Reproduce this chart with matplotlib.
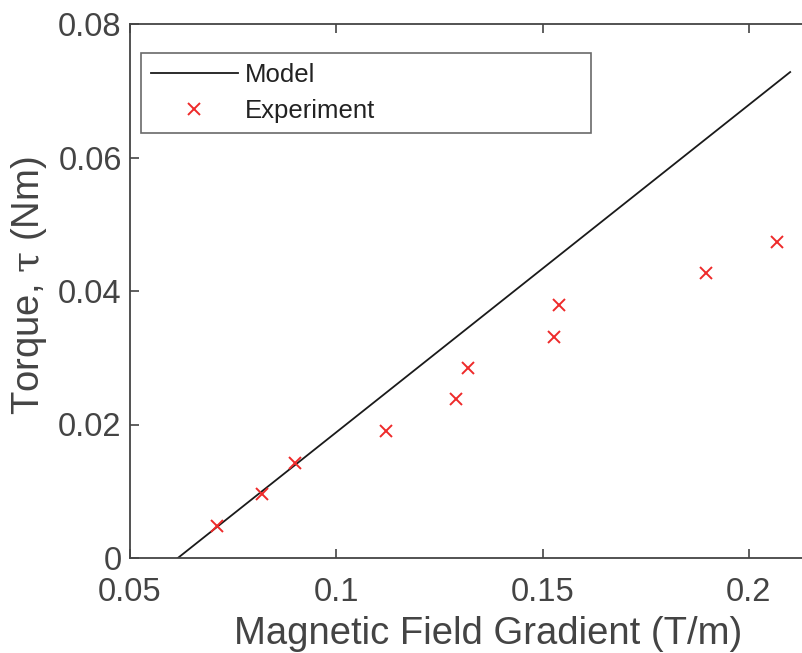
import matplotlib
matplotlib.use("Agg")
import matplotlib.pyplot as plt

plt.rcParams['font.family'] = ['Liberation Sans', 'DejaVu Sans']
plt.rcParams['mathtext.fontset'] = 'custom'
plt.rcParams['mathtext.rm'] = 'DejaVu Serif'
plt.rcParams['mathtext.it'] = 'DejaVu Serif'

# Data
model_x = [0.0616, 0.21]
model_y = [0.0, 0.0728]
exp_x = [0.0711, 0.0820, 0.0900, 0.1120, 0.1290, 0.1319, 0.1528, 0.1540, 0.1896, 0.2068]
exp_y = [0.0048, 0.0096, 0.0142, 0.0190, 0.0238, 0.0285, 0.0331, 0.0379, 0.0427, 0.0473]
xticks = [0.05, 0.1, 0.15, 0.2]
xticklabels = ['0.05', '0.1', '0.15', '0.2']
yticks = [0, 0.02, 0.04, 0.06, 0.08]
yticklabels = ['0', '0.02', '0.04', '0.06', '0.08']

W, H = 802, 653
fig = plt.figure(figsize=(W/100, H/100), dpi=100)
left, right, top, bottom = 130, 846, 24, 558
ax = fig.add_axes([left/W, (H-bottom)/H, (right-left)/W, (bottom-top)/H])

gray = '#444444'
ax.plot(model_x, model_y, color='#1a1a1a', lw=1.3, label='Model')
ax.plot(exp_x, exp_y, linestyle='none', marker='x', color='#ee2a2a', markersize=8.5, mew=1.4, label='Experiment')

ax.set_xlim(0.05, 0.05 + (right-left)/4126)
ax.set_ylim(0, 0.08)
ax.set_xticks(xticks)
ax.set_xticklabels(xticklabels)
ax.set_yticks(yticks)
ax.set_yticklabels(yticklabels)
ax.tick_params(direction='in', top=True, right=False, length=6.5, width=1.2, color=gray,
               labelsize=23.5, labelcolor=gray)
ax.tick_params(axis='x', pad=13.5)
ax.tick_params(axis='y', pad=6)
for s in ['left', 'bottom', 'top']:
    ax.spines[s].set_color(gray)
    ax.spines[s].set_linewidth(1.3)
ax.spines['right'].set_visible(False)

ax.set_xlabel('Magnetic Field Gradient (T/m)', fontsize=27.5, color=gray)
ax.xaxis.set_label_coords(0.5, -0.108)
ax.set_ylabel(r'Torque, $\tau$ (Nm)', fontsize=27.5, color=gray)
ax.yaxis.set_label_coords(-0.113, 0.51)

leg = ax.legend(loc='upper left', bbox_to_anchor=(0.0154, 0.798, 0.6285, 0.148), mode='expand',
                fontsize=18.5, frameon=True, fancybox=False, edgecolor=gray, handlelength=3.4,
                handletextpad=0.28, borderaxespad=0, borderpad=0.38, labelspacing=0.48)
leg.get_frame().set_linewidth(1.2)
for t in leg.get_texts():
    t.set_color('#222222')

fig.savefig('out.png', dpi=100)
